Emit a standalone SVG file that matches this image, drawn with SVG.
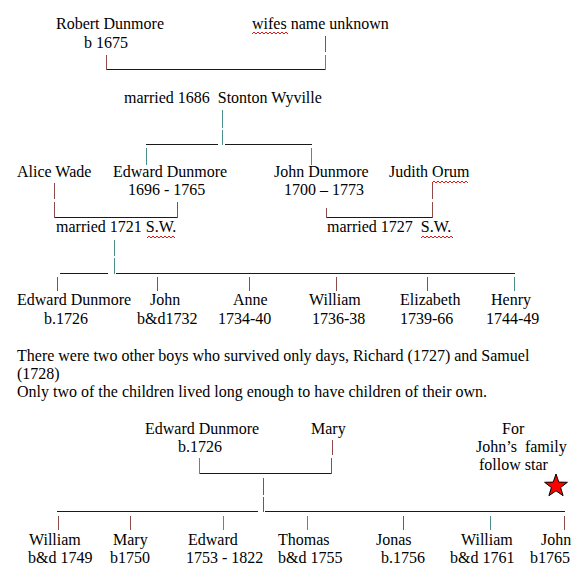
<svg xmlns="http://www.w3.org/2000/svg" width="581" height="578" viewBox="0 0 581 578">
<style>
text{font-family:"Liberation Serif","Times New Roman",serif;font-size:16px;fill:#000;white-space:pre}
.h{stroke:#1a1a1a;stroke-width:1;fill:none}
.r{stroke:#8e4b4b;stroke-width:1;fill:none}
.t{stroke:#4d8f8f;stroke-width:1;fill:none}
.w{stroke:#e01818;stroke-width:1;fill:none}
</style>
<rect width="581" height="578" fill="#fff"/>
<g id="connectors">
<line class="r" x1="325.5" y1="36" x2="325.5" y2="52"/>
<line class="r" x1="106.5" y1="55" x2="106.5" y2="70"/>
<line class="t" x1="325.5" y1="55" x2="325.5" y2="70"/>
<line class="h" x1="107" y1="69.5" x2="325" y2="69.5"/>
<line class="t" x1="222.5" y1="110" x2="222.5" y2="128"/>
<line class="t" x1="222.5" y1="130" x2="222.5" y2="145"/>
<line class="h" x1="146" y1="144.5" x2="218" y2="144.5"/>
<line class="h" x1="225" y1="144.5" x2="312" y2="144.5"/>
<line class="t" x1="146.5" y1="148" x2="146.5" y2="165"/>
<line class="t" x1="311.5" y1="148" x2="311.5" y2="165"/>
<line class="r" x1="54.5" y1="183" x2="54.5" y2="199"/>
<line class="r" x1="54.5" y1="202" x2="54.5" y2="218"/>
<line class="r" x1="177.5" y1="202" x2="177.5" y2="218"/>
<line class="h" x1="55" y1="217.5" x2="177" y2="217.5"/>
<line class="r" x1="432.5" y1="183" x2="432.5" y2="199"/>
<line class="r" x1="432.5" y1="202" x2="432.5" y2="218"/>
<line class="r" x1="326.5" y1="208" x2="326.5" y2="218"/>
<line class="h" x1="327" y1="217.5" x2="432" y2="217.5"/>
<line class="t" x1="114.5" y1="240" x2="114.5" y2="256"/>
<line class="t" x1="114.5" y1="258" x2="114.5" y2="274"/>
<line class="h" x1="60" y1="273.5" x2="108" y2="273.5"/>
<line class="h" x1="116" y1="273.5" x2="515" y2="273.5"/>
<line class="r" x1="57.5" y1="277" x2="57.5" y2="291"/>
<line class="r" x1="157.5" y1="277" x2="157.5" y2="291"/>
<line class="r" x1="249.5" y1="277" x2="249.5" y2="291"/>
<line class="r" x1="336.5" y1="277" x2="336.5" y2="291"/>
<line class="r" x1="427.5" y1="277" x2="427.5" y2="291"/>
<line class="t" x1="514.5" y1="277" x2="514.5" y2="291"/>
<line class="r" x1="332.5" y1="440" x2="332.5" y2="455"/>
<line class="t" x1="199.5" y1="458" x2="199.5" y2="474"/>
<line class="r" x1="331.5" y1="458" x2="331.5" y2="474"/>
<line class="h" x1="200" y1="473.5" x2="331" y2="473.5"/>
<line class="r" x1="263.5" y1="478" x2="263.5" y2="495"/>
<line class="r" x1="263.5" y1="497" x2="263.5" y2="512"/>
<line class="h" x1="57" y1="511.5" x2="258" y2="511.5"/>
<line class="h" x1="265" y1="511.5" x2="565" y2="511.5"/>
<line class="r" x1="58.5" y1="516" x2="58.5" y2="530"/>
<line class="r" x1="130.5" y1="516" x2="130.5" y2="530"/>
<line class="t" x1="223.5" y1="516" x2="223.5" y2="530"/>
<line class="t" x1="307.5" y1="516" x2="307.5" y2="530"/>
<line class="r" x1="403.5" y1="516" x2="403.5" y2="530"/>
<line class="t" x1="490.5" y1="516" x2="490.5" y2="530"/>
<line class="r" x1="564.5" y1="516" x2="564.5" y2="530"/>
</g>
<g id="robert"><text x="56" y="29">Robert Dunmore</text><text x="84" y="48">b 1675</text></g>
<g id="wife-unknown"><text x="252" y="29">wifes name unknown</text><path class="w" d="M252 34 l2 -2 l2 2 l2 -2 l2 2 l2 -2 l2 2 l2 -2 l2 2 l2 -2 l2 2 l2 -2 l2 2 l2 -2 l2 2 l2 -2 l2 2 l2 -2 l2 2"/></g>
<g id="marriage-1686"><text x="124" y="103">married 1686  Stonton Wyville</text></g>
<g id="alice"><text x="17" y="177">Alice Wade</text></g>
<g id="edward-1696"><text x="113" y="177">Edward Dunmore</text><text x="128" y="195">1696 - 1765</text></g>
<g id="john-1700"><text x="274" y="177">John Dunmore</text><text x="284" y="195">1700 – 1773</text></g>
<g id="judith"><text x="389" y="177">Judith Orum</text><path class="w" d="M432 183 l2 -2 l2 2 l2 -2 l2 2 l2 -2 l2 2 l2 -2 l2 2 l2 -2 l2 2 l2 -2 l2 2 l2 -2 l2 2 l2 -2 l2 2 l2 -2 l2 2"/></g>
<g id="marriage-1721"><text x="56" y="232">married 1721 S.W.</text><path class="w" d="M147 238 l2 -2 l2 2 l2 -2 l2 2 l2 -2 l2 2 l2 -2 l2 2 l2 -2 l2 2 l2 -2 l2 2 l2 -2 l2 2"/></g>
<g id="marriage-1727"><text x="327" y="232">married 1727  S.W.</text><path class="w" d="M421 238 l2 -2 l2 2 l2 -2 l2 2 l2 -2 l2 2 l2 -2 l2 2 l2 -2 l2 2 l2 -2 l2 2 l2 -2 l2 2 l2 -2 l2 2"/></g>
<g id="edward-1726"><text x="17" y="305">Edward Dunmore</text><text x="44" y="324">b.1726</text></g>
<g id="john-1732"><text x="150" y="305">John</text><text x="137" y="324">b&amp;d1732</text></g>
<g id="anne"><text x="233" y="305">Anne</text><text x="218" y="324">1734-40</text></g>
<g id="william-1736"><text x="309" y="305">William</text><text x="312" y="324">1736-38</text></g>
<g id="elizabeth"><text x="400" y="305">Elizabeth</text><text x="400" y="324">1739-66</text></g>
<g id="henry"><text x="491" y="305">Henry</text><text x="486" y="324">1744-49</text></g>
<g id="note"><text x="17" y="361">There were two other boys who survived only days, Richard (1727) and Samuel</text><text x="17" y="379">(1728)</text><text x="17" y="397">Only two of the children lived long enough to have children of their own.</text></g>
<g id="edward-1726-b"><text x="145" y="434">Edward Dunmore</text><text x="178" y="452">b.1726</text></g>
<g id="mary"><text x="311" y="434">Mary</text></g>
<g id="star-note"><text x="502" y="434">For</text><text x="476" y="452">John’s  family</text><text x="479" y="470">follow star</text>
<polygon points="556,474 558.8,482.1 567.4,482.3 560.6,487.5 563.1,495.7 556,490.8 548.9,495.7 551.4,487.5 544.6,482.3 553.2,482.1" fill="#ff0000" stroke="#000" stroke-width="1"/></g>
<g id="william-1749"><text x="29" y="545">William</text><text x="28" y="563">b&amp;d 1749</text></g>
<g id="mary-1750"><text x="113" y="545">Mary</text><text x="110" y="563">b1750</text></g>
<g id="edward-1753"><text x="188" y="545">Edward</text><text x="186" y="563">1753 - 1822</text></g>
<g id="thomas"><text x="278" y="545">Thomas</text><text x="278" y="563">b&amp;d 1755</text></g>
<g id="jonas"><text x="376" y="545">Jonas</text><text x="381" y="563">b.1756</text></g>
<g id="william-1761"><text x="461" y="545">William</text><text x="450" y="563">b&amp;d 1761</text></g>
<g id="john-1765"><text x="541" y="545">John</text><text x="530" y="563">b1765</text></g>
</svg>
